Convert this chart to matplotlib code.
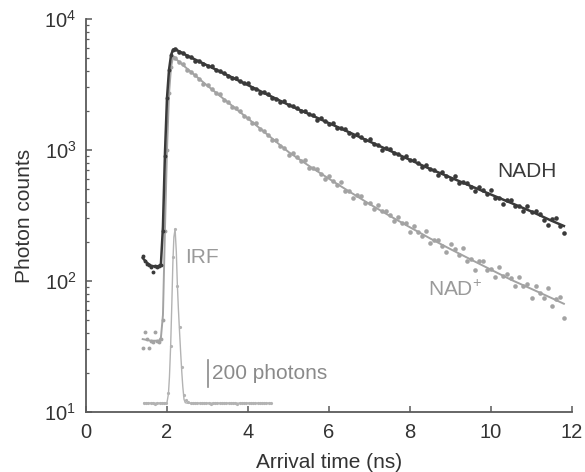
import numpy as np
import matplotlib
matplotlib.use('Agg')
import matplotlib.pyplot as plt

plt.rcParams['font.family'] = ['Liberation Sans', 'DejaVu Sans']
plt.rcParams['mathtext.fontset'] = 'custom'
plt.rcParams['mathtext.rm'] = 'Liberation Sans'
plt.rcParams['mathtext.it'] = 'Liberation Sans:italic'
plt.rcParams['mathtext.bf'] = 'Liberation Sans:bold'

# rise part of the decays (ns)
rise_time = [1.40, 1.45, 1.50, 1.55, 1.60, 1.65, 1.70, 1.75,
             1.80, 1.85, 1.90, 1.95, 2.00, 2.05, 2.10, 2.15]
nadh_rise = [155, 142, 136, 132, 128, 117, 130, 127,
             131, 133, 240, 900, 2500, 4100, 5300, 5850]
nad_rise = [31, 41, 36, 31, 35, 34, 41, 35,
            34, 36, 50, 240, 1000, 2700, 4300, 5100]

# decay part, one channel every 0.1 ns
decay_time = np.round(np.arange(2.2, 11.85, 0.1), 2)
nadh_decay = [5911, 5602, 5546, 5234, 5106, 4800, 4794, 4571, 4376, 4364,
              4057, 3993, 3889, 3691, 3517, 3532, 3373, 3219, 3227, 2982,
              2922, 2733, 2754, 2681, 2516, 2465, 2327, 2353, 2208, 2180,
              2089, 1973, 1998, 1875, 1845, 1707, 1747, 1656, 1579, 1611,
              1464, 1463, 1435, 1350, 1277, 1318, 1253, 1189, 1222, 1102,
              1092, 1002, 1040, 1020, 942, 933, 870, 907, 838, 838,
              797, 742, 773, 711, 708, 639, 678, 635, 602, 635,
              557, 569, 563, 522, 488, 525, 494, 465, 496, 429,
              433, 385, 418, 414, 372, 375, 343, 373, 337, 342,
              323, 294, 269, 296, 300, 265, 232]
nad_decay = [5012, 4669, 4536, 4104, 3939, 3740, 3459, 3212, 3151, 2939,
             2738, 2692, 2420, 2322, 2113, 2092, 1994, 1820, 1746, 1603,
             1596, 1454, 1404, 1307, 1194, 1193, 1080, 1040, 922, 947,
             877, 819, 838, 731, 729, 710, 651, 601, 630, 585,
             544, 568, 488, 484, 427, 455, 444, 395, 391, 354,
             381, 340, 341, 319, 288, 310, 275, 276, 235, 261,
             238, 220, 242, 196, 206, 206, 184, 166, 190, 174,
             159, 180, 142, 147, 121, 142, 142, 121, 124, 107,
             128, 109, 114, 105, 91, 108, 91, 95, 74, 92,
             81, 74, 89, 65, 73, 75, 52]

# fitted curves
nadh_fit_time = [1.40, 1.50, 1.60, 1.70, 1.80, 1.85, 1.90, 1.95, 2.00, 2.05, 2.10, 2.15,
                 2.2, 2.5, 3.0, 3.5, 4.0, 4.5, 5.0, 5.5, 6.0, 6.5, 7.0, 7.5, 8.0,
                 8.5, 9.0, 9.5, 10.0, 10.5, 11.0, 11.5, 11.8]
nadh_fit = [150, 138, 131, 129, 130, 135, 260, 950, 2500, 4100, 5300, 5850,
            5888, 5248, 4416, 3715, 3126, 2630, 2213, 1884, 1603, 1365, 1161, 989, 841,
            716, 617, 531, 457, 394, 339, 288, 263]
nad_fit_time = [1.40, 1.60, 1.80, 1.85, 1.90, 1.95, 2.00, 2.05, 2.10, 2.15,
                2.2, 2.5, 3.0, 3.5, 4.0, 4.5, 5.0, 5.5, 6.0, 6.5, 7.0, 7.5, 8.0,
                8.5, 9.0, 9.5, 10.0, 10.5, 11.0, 11.5, 11.8]
nad_fit = [36, 35, 35, 37, 55, 250, 1000, 2700, 4300, 5150,
           5012, 4169, 3090, 2317, 1738, 1296, 966, 759, 603, 482, 387, 314, 257,
           211, 175, 146, 122, 102, 87, 74, 67]

# instrument response (linear photon counts)
irf_time = np.round(2.2 + 0.055 * np.arange(-14, 44), 3)
irf_counts = [66, 64, 68, 65, 67, 63, 66, 69, 65, 67, 66,
              142, 494, 1161, 1371, 944, 637, 337, 127, 90, 75,
              68, 66, 70, 65, 67, 64, 69, 66, 68, 63, 67, 70, 65, 66, 68, 64, 67, 69, 65,
              66, 70, 63, 67, 68, 65, 66, 69, 64, 67, 66, 68, 65, 70, 66, 64, 67, 66]
irf_fit_time = [1.43, 1.98, 2.00, 2.035, 2.06, 2.09, 2.12, 2.145, 2.17, 2.20, 2.23,
                2.255, 2.28, 2.31, 2.34, 2.365, 2.39, 2.42, 2.45, 2.48, 4.57]
irf_fit = [67, 67, 72, 135, 260, 494, 820, 1120, 1310, 1371, 1200,
           960, 780, 600, 430, 300, 190, 95, 70, 67, 67]
scale_bar = 200

dark = '#3a3a3a'
grey = '#a3a3a3'
light = '#b3b3b3'
axis_col = '#5a5a5a'
text_col = '#333333'

fig = plt.figure(figsize=(5.85, 4.72), dpi=100)
rect = [86 / 585, 60 / 472, 486 / 585, 393 / 472]
ax = fig.add_axes(rect)

# NAD+ first, NADH on top
ax.plot(nad_fit_time, nad_fit, color=grey, lw=1.4, zorder=2)
ax.plot(rise_time, nad_rise, 'o', color=grey, ms=2.8, mew=0, zorder=3)
ax.plot(decay_time, nad_decay, 'o', color=grey, ms=3.3, mew=0, zorder=3)
ax.plot(nadh_fit_time, nadh_fit, color=dark, lw=1.8, zorder=4)
ax.plot(rise_time, nadh_rise, 'o', color=dark, ms=2.8, mew=0, zorder=5)
ax.plot(decay_time, nadh_decay, 'o', color=dark, ms=3.3, mew=0, zorder=5)

ax.set_yscale('log')
ax.set_xlim(0, 12)
ax.set_ylim(10, 1e4)
ax.set_xticks([0, 2, 4, 6, 8, 10, 12])
ax.spines['top'].set_visible(False)
ax.spines['right'].set_visible(False)
for s in ['left', 'bottom']:
    ax.spines[s].set_color(axis_col)
    ax.spines[s].set_linewidth(1.3)
ax.tick_params(which='major', direction='in', length=4, width=1.1, color=axis_col,
               labelsize=14.5, labelcolor=text_col)
ax.tick_params(axis='x', which='major', pad=8)
ax.tick_params(axis='y', which='major', pad=7)
ax.tick_params(which='minor', direction='in', length=2.5, width=0.9, color=axis_col)
ax.tick_params(axis='x', which='minor', bottom=False)
ax.set_xlabel('Arrival time (ns)', fontsize=15, color=text_col, labelpad=8)
ax.set_ylabel('Photon counts', fontsize=15, color=text_col, labelpad=7)

ax.text(10.15, 680, 'NADH', fontsize=15, color=dark, va='center', ha='left')
ax.text(8.45, 85, 'NAD$^{+}$', fontsize=15, color='#9a9a9a', va='center', ha='left')

# IRF on its own linear scale
ax2 = fig.add_axes(rect)
ax2.set_xlim(0, 12)
ax2.set_ylim(0, 2944)
ax2.axis('off')
ax2.patch.set_visible(False)
ax2.plot(irf_fit_time, irf_fit, color=light, lw=1.0)
ax2.plot(irf_time, irf_counts, 'o', color=light, ms=2.3, mew=0)
ax2.plot([3.0, 3.0], [187, 187 + scale_bar], color='#8a8a8a', lw=1.2)
ax2.text(3.1, 187 + scale_bar / 2, '%d photons' % scale_bar, fontsize=15,
         color='#8a8a8a', va='center', ha='left')
ax2.text(2.45, 1160, 'IRF', fontsize=15, color='#9a9a9a', va='center', ha='left')

fig.savefig('out.png', dpi=100)
